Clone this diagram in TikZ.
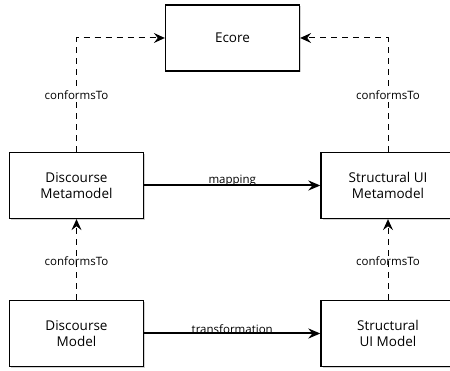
\documentclass[tikz,border=0pt]{standalone}
\usepackage{fontspec}
\setmainfont{Open Sans}
\usetikzlibrary{arrows.meta,shadows}
\begin{document}
\begin{tikzpicture}[x=1pt,y=-1pt,
  model/.style={draw, line width=1.3pt, fill=white, minimum width=134pt,
    minimum height=66pt, align=center, font=\fontsize{13.5}{16.5}\selectfont,
    drop shadow={opacity=0.35, shadow xshift=1.5pt, shadow yshift=-1.5pt}},
  conf/.style={dashed, dash pattern=on 6pt off 5pt, line width=1pt,
    -{Stealth[length=11pt,width=10pt,inset=4pt]}},
  trans/.style={line width=2pt, -{Stealth[length=12pt,width=10pt,inset=4pt]}},
  lbl/.style={font=\fontsize{11.5}{13}\selectfont, inner sep=1pt}]
\useasboundingbox (0,0) rectangle (450,371);
\clip (0,0) rectangle (450,371);

\node[model] (ecore) at (232.5,38) {Ecore};
\node[model] (dmm) at (76.5,185.5) {Discourse\\Metamodel};
\node[model] (smm) at (388,185.5) {Structural UI\\Metamodel};
\node[model] (dm) at (76.5,333.5) {Discourse\\Model};
\node[model] (sm) at (388,333.5) {Structural\\UI Model};

\draw[conf] (dmm.north) |- (ecore.west)
  node[lbl, pos=0.25, fill=white] {conformsTo};
\draw[conf] (smm.north) |- (ecore.east)
  node[lbl, pos=0.25, fill=white] {conformsTo};
\draw[conf] (dm.north) -- (dmm.south) node[lbl, midway, yshift=-2pt] {conformsTo};
\draw[conf] (sm.north) -- (smm.south) node[lbl, midway, yshift=-2pt] {conformsTo};

\draw[trans] (dmm.east) -- (smm.west)
  node[lbl, midway, above, yshift=-2.5pt] {mapping};
\draw[trans] (dm.east) -- (sm.west)
  node[lbl, midway, above, yshift=-2.5pt] {transformation};
\end{tikzpicture}
\end{document}
